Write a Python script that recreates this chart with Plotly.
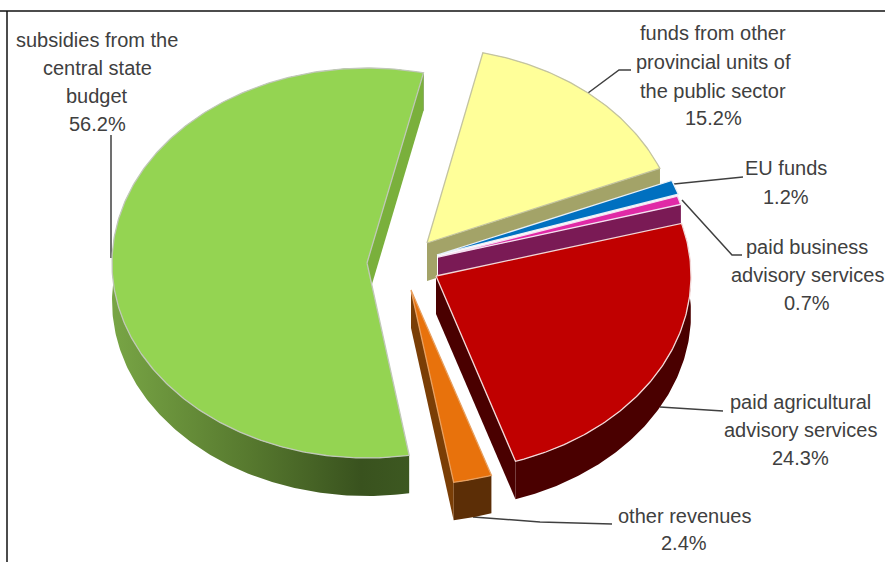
import math
import plotly.graph_objects as go

# ---- data ----
categories = ["funds from other provincial units of the public sector", "EU funds",
              "paid business advisory services", "paid agricultural advisory services",
              "other revenues", "subsidies from the central state budget"]
shares = [15.2, 1.2, 0.7, 24.3, 2.4, 56.2]

# ---- styles ----
top_colors = ["#ffff99", "#0070c0", "#e02aa6", "#c00000", "#e8720c", "#94d452"]
edge_colors = ["#c4c4a0", "#e8f0f8", "#f5e0f0", "#f2d8d8", "#e8a060", "#c0c8b8"]
band_colors = ["#a3a368", "#ffffff", "#7a1a55", "#4a0000", "#5c2e06", None]
cut_colors = ["#a3a368", "#ffffff", "#7a1a55", "#4a0000", "#7a3e06", "#7ab03c"]
centers = [(427, 243), (437, 255), (438, 257), (436, 276), (411, 290), (367, 263)]
radius_x = [252, 254, 252, 255, 258, 255]
RY = 195
DEPTH = 38
START_DEG = 12.8
GREEN_GRADIENT = [[0, "#78a545"], [0.45, "#56782e"], [0.8, "#39521e"], [1, "#3e5a22"]]

label_lines = [
    (97, ["subsidies from the", "central state", "budget", "56.2%"], [40, 68, 96, 124]),
    (713, ["funds from other", "provincial units of", "the public sector", "15.2%"], [33, 62, 91, 118]),
    (786, ["EU funds", "1.2%"], [168, 197]),
    (807, ["paid business", "advisory services", "0.7%"], [247, 275, 303]),
    (800, ["paid agricultural", "advisory services", "24.3%"], [402, 430, 458]),
    (684, ["other revenues", "2.4%"], [516, 543]),
]
leaders = [
    "M 111 258 L 111 135",
    "M 588 93 L 619 70 L 631 70",
    "M 674 184 L 743 177",
    "M 682 200 L 732 255 L 742 255",
    "M 660 407 L 723 411",
    "M 473 517 L 540 522 L 612 524",
]


def rim(center, rx, deg):
    a = math.radians(deg)
    return center[0] + rx * math.sin(a), center[1] - RY * math.cos(a)


def arc(center, rx, d0, d1):
    n = max(3, int(abs(d1 - d0) * 1.5))
    return [rim(center, rx, d0 + (d1 - d0) * i / n) for i in range(n + 1)]


def drop(seq):
    return [(p[0], p[1] + DEPTH) for p in seq]


def poly(pts, color, line=None, width=0, gradient=None):
    kw = dict(fillgradient=gradient) if gradient else dict(fillcolor=color)
    return go.Scatter(
        x=[p[0] for p in pts] + [pts[0][0]], y=[p[1] for p in pts] + [pts[0][1]],
        mode="lines", fill="toself", hoverinfo="skip", showlegend=False,
        line=dict(color=line or "rgba(0,0,0,0)", width=width), **kw)


fig = go.Figure()
deg = START_DEG
for i, share in enumerate(shares):
    d0, d1 = deg, deg + share * 3.6
    deg = d1
    c, rx = centers[i], radius_x[i]
    pts = arc(c, rx, d0, d1)
    # outer band
    grad = dict(type="horizontal", colorscale=GREEN_GRADIENT) if band_colors[i] is None else None
    fig.add_trace(poly(pts + drop(pts)[::-1], band_colors[i], gradient=grad))
    # visible radial cut face
    edge = [c, pts[-1]]
    fig.add_trace(poly(edge + drop(edge)[::-1], cut_colors[i]))
    # top face
    fig.add_trace(poly([c] + pts, top_colors[i], line=edge_colors[i], width=1.3))

shapes = [dict(type="path", path=p, line=dict(color="#404040", width=1.5), layer="below") for p in leaders]
shapes.append(dict(type="line", x0=0, x1=885, y0=11, y1=11, line=dict(color="#111111", width=1.5)))
shapes.append(dict(type="line", x0=7, x1=7, y0=11, y1=562, line=dict(color="#111111", width=1.5)))

annotations = []
for cx, lines, ys in label_lines:
    for text, y in zip(lines, ys):
        annotations.append(dict(x=cx, y=y, text=text, showarrow=False, xanchor="center", yanchor="middle",
                                font=dict(family="Liberation Sans", size=20, color="#404040")))

fig.update_layout(
    width=885, height=562, margin=dict(l=0, r=0, t=0, b=0), paper_bgcolor="white", plot_bgcolor="white",
    xaxis=dict(range=[0, 885], visible=False, fixedrange=True),
    yaxis=dict(range=[562, 0], visible=False, fixedrange=True),
    shapes=shapes, annotations=annotations, showlegend=False,
)
fig.write_html("out.html", config=dict(displayModeBar=False), post_script="document.body.style.margin='0';")
